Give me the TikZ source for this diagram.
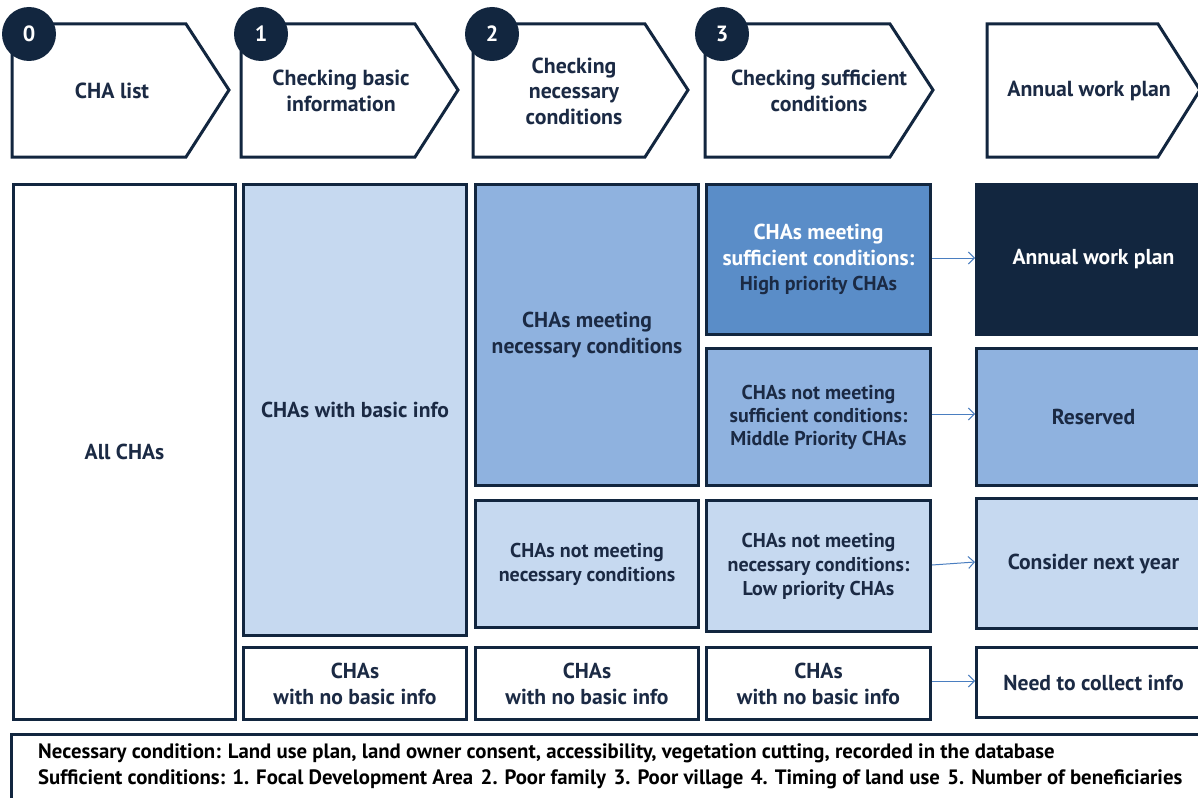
\documentclass[tikz,border=0pt]{standalone}
\usepackage{fontspec}
\setmainfont{PT Sans}
\usetikzlibrary{arrows.meta}
\definecolor{navy}{HTML}{12263F}
\definecolor{txt}{HTML}{1B2A44}
\definecolor{lightb}{HTML}{C6D9F0}
\definecolor{midb}{HTML}{8FB2DF}
\definecolor{strongb}{HTML}{5A8DC8}
\definecolor{arr}{HTML}{4A7EC0}
\begin{document}
\begin{tikzpicture}[x=1pt,y=-1pt,
  box/.style={draw=navy, line width=3pt, rectangle, anchor=north west, align=center,
    font=\bfseries\fontsize{21.6}{26}\selectfont, text=txt, inner sep=0pt},
  small/.style={font=\bfseries\fontsize{20}{24}\selectfont},
  chev/.style={draw=navy, line width=3pt, fill=white, line join=miter},
  chevtext/.style={align=center, font=\bfseries\fontsize{21.8}{25.5}\selectfont, text=txt},
  num/.style={circle, fill=navy, minimum size=54pt, inner sep=0pt, text=white,
    font=\bfseries\fontsize{22}{24}\selectfont},
  link/.style={draw=arr, line width=1pt, -{Straight Barb[length=6pt,width=12pt]}},
  legend/.style={anchor=west, font=\bfseries\fontsize{20.8}{24}\selectfont, text=black, inner sep=0pt}
]
\clip (0,0) rectangle (1198,797);
\fill[white] (0,0) rectangle (1198,797);

% chevrons
\draw[chev] (12,24) -- (186,24) -- (229,90) -- (186,157) -- (12,157) -- cycle;
\draw[chev] (241,24) -- (415,24) -- (458,90) -- (415,157) -- (241,157) -- cycle;
\draw[chev] (473,24) -- (645,24) -- (688,90) -- (645,157) -- (473,157) -- cycle;
\draw[chev] (705,24) -- (890,24) -- (933,90) -- (890,157) -- (705,157) -- cycle;
\draw[chev] (987,24) -- (1158,24) -- (1200,90) -- (1158,157) -- (987,157) -- cycle;
\node[chevtext] (h0) at (112,91) {CHA list};
\node[chevtext] (h1) at (341,91) {Checking basic\\information};
\node[chevtext] (h2) at (574,91) {Checking\\necessary\\conditions};
\node[chevtext] (h3) at (819,91) {Checking sufficient\\conditions};
\node[chevtext] (h4) at (1089,91) {Annual work plan};
\node[num] (n0) at (29,34) {0};
\node[num] (n1) at (261,34) {1};
\node[num] (n2) at (492,34) {2};
\node[num] (n3) at (722,34) {3};

% column 0
\node[box, fill=white, minimum width=222pt, minimum height=535pt] (all) at (12,183) {All CHAs};
% column 1
\node[box, fill=lightb, minimum width=223pt, minimum height=451pt] (basic) at (242,183) {CHAs with basic info};
\node[box, fill=white, minimum width=223pt, minimum height=72pt] (nob1) at (242,646) {CHAs\\with no basic info};
% column 2
\node[box, fill=midb, minimum width=223pt, minimum height=301pt] (nec) at (474,183) {CHAs meeting\\necessary conditions};
\node[box, small, fill=lightb, minimum width=223pt, minimum height=127pt] (notnec) at (474,499) {CHAs not meeting\\necessary conditions};
\node[box, fill=white, minimum width=223pt, minimum height=72pt] (nob2) at (474,646) {CHAs\\with no basic info};
% column 3
\node[box, fill=strongb, minimum width=224pt, minimum height=150pt] (high) at (705,183)
  {\textcolor{white}{CHAs meeting}\\\textcolor{white}{sufficient conditions:}\\[-1pt]{\fontsize{20}{22}\selectfont High priority CHAs}};
\node[box, small, fill=midb, minimum width=224pt, minimum height=137pt, font=\bfseries\fontsize{20}{23}\selectfont] (mid) at (705,347)
  {CHAs not meeting\\sufficient conditions:\\Middle Priority CHAs};
\node[box, small, fill=lightb, minimum width=224pt, minimum height=131pt] (low) at (705,499)
  {CHAs not meeting\\necessary conditions:\\Low priority CHAs};
\node[box, fill=white, minimum width=224pt, minimum height=72pt] (nob3) at (705,646) {CHAs\\with no basic info};
% column 4
\node[box, fill=navy, text=white, minimum width=234pt, minimum height=150pt] (awp) at (975,183) {Annual work plan};
\node[box, fill=midb, minimum width=234pt, minimum height=137pt] (res) at (975,347) {Reserved};
\node[box, fill=lightb, minimum width=234pt, minimum height=130pt] (next) at (975,497) {Consider next year};
\node[box, fill=white, minimum width=234pt, minimum height=70pt] (collect) at (975,646) {Need to collect info};

% arrows
\draw[link] (high.east |- 0,258) -- (awp.west |- 0,258);
\draw[link] (mid.east |- 0,414) -- (res.west |- 0,414);
\draw[link] (low.east |- 0,565) -- (next.west |- 0,562);
\draw[link] (nob3.east |- 0,681) -- (collect.west |- 0,681);

% legend
\draw[draw=navy, line width=3pt, fill=white] (11,734) rectangle (1220,830);
\node[legend] (l1) at (38,753) {Necessary condition: Land use plan, land owner consent, accessibility, vegetation cutting, recorded in the database};
\node[legend] (l2) at (38,779) {Sufficient conditions: 1. Focal Development Area\hspace{7.5pt}2. Poor family\hspace{7.5pt}3. Poor village\hspace{7.5pt}4. Timing of land use\hspace{7.5pt}5. Number of beneficiaries};
\end{tikzpicture}
\end{document}
